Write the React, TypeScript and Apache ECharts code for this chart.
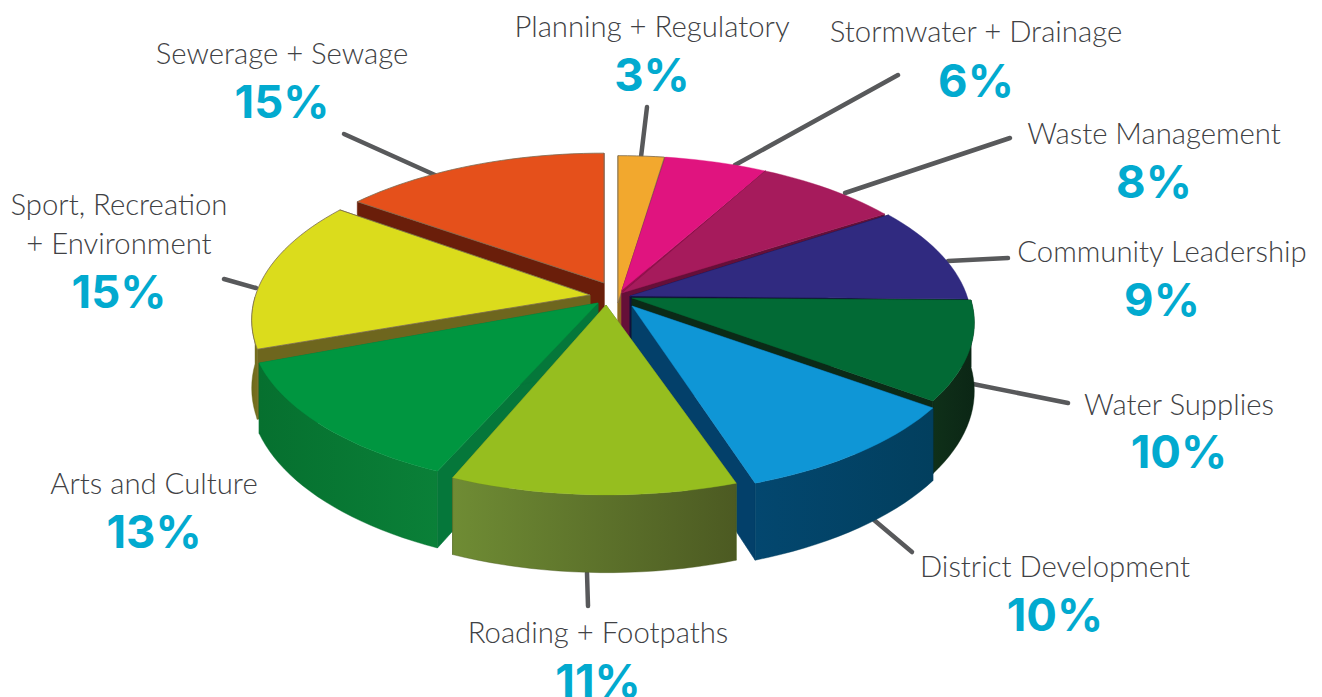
import React, { useEffect, useRef } from "react";
import * as echarts from "echarts";

const categories = [
  "Planning + Regulatory",
  "Stormwater + Drainage",
  "Waste Management",
  "Community Leadership",
  "Water Supplies",
  "District Development",
  "Roading + Footpaths",
  "Arts and Culture",
  "Sport, Recreation\n+ Environment",
  "Sewerage + Sewage",
];
const shares = [3, 6, 8, 9, 10, 10, 11, 13, 15, 15];

const topColors = ["#F2A82E", "#E0147F", "#A61B5C", "#302A80", "#026A35", "#0F96D6", "#96BE1F", "#009640", "#DBDC1C", "#E5501B"];
const faceColors = ["#8E6A22", "#96104F", "#650F38", "#12103C", "#0B2A17", "#03406A", "#5F7A2F", "#05773A", "#6E661E", "#6A1E0A"];
const wallFrom = ["#8E6A22", "#96104F", "#650F38", "#12103C", "#0F3019", "#03476F", "#6F8C34", "#0A8038", "#7A7020", "#6A1E0A"];
const wallTo = ["#8E6A22", "#96104F", "#650F38", "#12103C", "#0B2615", "#023F5E", "#4C5A22", "#06702F", "#6B6A1C", "#6A1E0A"];

// drawing tweaks of the tilted pie (not data)
const cx = 620, cy = 297, rx = 345, ry = 162, persp = 0.138, depth = 67;
const rimNudge = [0, -2, -4, -5.2, -3.6, -4.6, -4.6, -2.2, -3, 3, 0];
const startFix = [0, 0, 0, 0, 0, 0, 0, 1, 3, 0];
const endFix = [0, 0, 0, 0, 0, 0, 0, 0, -3.5, 0];
const rimShift = [[-2, 1], [-1, 1], [-1, 1], [3, 2], [6, 3], [6, 10], [-13, 10], [-22, 5], [-20, 0], [-16, -1.5]];
const apexes = [[618, 303], [622, 290], [622, 293], [630, 296], [632, 298], [632, 306], [606, 305], [598, 303], [590, 295], [604, 283]];
const paintOrder = [9, 0, 1, 2, 3, 4, 8, 5, 7, 6];

const labelPos = [[652, 25], [976, 30], [1154, 132], [1162, 250], [1179, 403], [1055, 565], [598, 631], [154, 482], [119, 222.5], [282, 52]];
const pctGap = [49, 50, 49, 49, 48, 49, 49, 49, 68.5, 49];
const leaderLines: (number[][] | null)[] = [
  [[647, 107], [641, 157]],
  [[898, 75], [735, 165]],
  [[1010, 138], [845, 193]],
  [[1008, 258], [948, 261]],
  [[1068, 403], [968, 383]],
  [[912, 552], [874, 520]],
  [[588, 606], [587, 573]],
  null,
  [[224, 279], [256, 288]],
  [[344, 134], [435, 175]],
];

const total = shares.reduce((a, b) => a + b, 0);
const bounds: number[] = [0];
shares.forEach((s, i) => bounds.push(bounds[i] + (s / total) * 360));
const edges = bounds.map((b, i) => b + rimNudge[i]);

const scaleAt = (deg: number) => 1 / (1 + persp * Math.cos((deg * Math.PI) / 180));
const rimPoint = (deg: number, i: number) => {
  const a = (deg * Math.PI) / 180;
  const f = scaleAt(deg);
  return [cx + rx * Math.sin(a) * f + rimShift[i][0], cy - ry * Math.cos(a) * f + rimShift[i][1]];
};
const lower = (p: number[], deg: number) => [p[0], p[1] + depth * scaleAt(deg)];
const arc = (from: number, to: number, i: number) => {
  const pts: number[][] = [];
  const steps = Math.max(2, Math.ceil((to - from) / 2));
  for (let k = 0; k <= steps; k++) pts.push(rimPoint(from + ((to - from) * k) / steps, i));
  return pts;
};
const degAt = (from: number, to: number, k: number, n: number) => from + ((to - from) * k) / (n - 1);

function renderSlice(params: any) {
  const order = params.dataIndex as number;
  const i = paintOrder[order];
  const start = edges[i] + startFix[i], end = edges[i + 1] + endFix[i];
  const apex = apexes[i];
  const children: any[] = [];
  const base = order * 10;
  const solid = (points: number[][], fill: any, stroke: string, z: number, w = 0.6) => ({
    type: "polygon",
    z2: base + z,
    shape: { points },
    style: { fill, stroke, lineWidth: w },
  });
  const apexLow = [apex[0], apex[1] + depth];
  const a = rimPoint(start, i), b = rimPoint(end, i);
  children.push(solid([apex, a, lower(a, start), apexLow], faceColors[i], faceColors[i], 1));
  children.push(solid([apex, b, lower(b, end), apexLow], faceColors[i], faceColors[i], 2));
  const from = Math.max(start, 90), to = Math.min(end, 270);
  if (to > from) {
    const t = arc(from, to, i);
    const bot = t.map((p, k) => lower(p, degAt(from, to, k, t.length))).reverse();
    const fill = new echarts.graphic.LinearGradient(0, 0, 1, 0, [
      { offset: 0, color: from > 180 ? wallTo[i] : wallFrom[i] },
      { offset: 1, color: from > 180 ? wallFrom[i] : wallTo[i] },
    ]);
    children.push(solid(t.concat(bot), fill, wallTo[i], 3, 0.4));
  }
  const outlined = i === 0 || i === 9 || i === 8;
  children.push(solid([apex, ...arc(start, end, i)], topColors[i], outlined ? "#7A6A50" : topColors[i], 4, outlined ? 0.8 : 0.4));
  return { type: "group", children };
}

function renderLabel(params: any) {
  const i = params.dataIndex as number;
  const [x, y] = labelPos[i];
  const children: any[] = [
    {
      type: "text",
      z2: 200,
      style: {
        text: categories[i], x, y, align: "center", verticalAlign: "middle",
        fontFamily: "Lato", fontWeight: 300, fontSize: 29.3, lineHeight: 39, fill: "#404144",
      },
    },
    {
      type: "text",
      z2: 200,
      style: {
        text: `${shares[i]}%`, x, y: y + pctGap[i], align: "center", verticalAlign: "middle",
        fontFamily: "Inter", fontWeight: 700, fontSize: 45.5, fill: "#02AACF",
      },
    },
  ];
  return { type: "group", children };
}

function renderLeader(params: any) {
  const line = leaderLines[params.dataIndex as number];
  if (!line) return { type: "group", children: [] };
  return {
    type: "polyline",
    shape: { points: line },
    style: { stroke: "#58595B", lineWidth: 4.5, lineCap: "round", fill: "none" },
  };
}

export default function App() {
  const ref = useRef<HTMLDivElement>(null);
  useEffect(() => {
    const chart = echarts.init(ref.current!, null, { renderer: "svg" });
    chart.setOption({
      animation: false,
      backgroundColor: "#FFFFFF",
      series: [
        { type: "custom", coordinateSystem: "none", silent: true, z: 1, data: shares.map((s) => [s]), renderItem: renderLeader },
        { type: "custom", coordinateSystem: "none", silent: true, z: 2, data: paintOrder.map((i) => [shares[i]]), renderItem: renderSlice },
        { type: "custom", coordinateSystem: "none", silent: true, z: 3, data: shares.map((s) => [s]), renderItem: renderLabel },
      ],
    });
    return () => chart.dispose();
  }, []);
  return <div ref={ref} style={{ position: "fixed", left: 0, top: 0, width: 1322, height: 697 }} />;
}
